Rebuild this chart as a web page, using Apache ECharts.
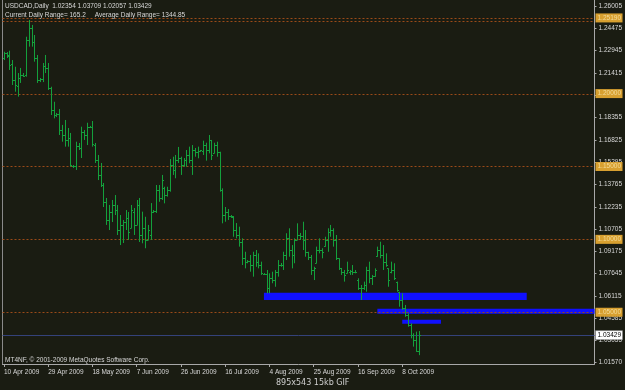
<!DOCTYPE html>
<html><head><meta charset="utf-8">
<script src="https://cdn.jsdelivr.net/npm/echarts@6/dist/echarts.min.js"></script>
<style>html,body{margin:0;padding:0;background:#1a1c12;}#c{width:625px;height:390px;}</style>
</head><body><div id="c"></div>
<script>
const headerLine1 = 'USDCAD,Daily  1.02354 1.03709 1.02057 1.03429';
const headerLine2 = 'Current Daily Range= 165.2     Average Daily Range= 1344.85';
const copyright = 'MT4NF, \u00a9 2001-2009 MetaQuotes Software Corp.';
const caption = '895x543 15kb GIF';

const opens = [
1.2244,1.2278,1.2265,1.2203,1.2093,1.2052,1.2107,1.2128,1.2128,1.2368,
1.2450,1.2354,1.2244,1.2093,1.2100,1.2189,1.2176,1.2038,1.1887,1.1853,
1.1860,1.1750,1.1716,1.1682,1.1695,1.1503,1.1503,1.1640,1.1627,1.1736,
1.1716,1.1771,1.1771,1.1647,1.1544,1.1442,1.1373,1.1256,1.1133,1.1188,
1.1236,1.1201,1.1064,1.1099,1.1119,1.1147,1.1078,1.1188,1.1099,1.1236,
1.1030,1.1078,1.0996,1.1030,1.1188,1.1195,1.1339,1.1284,1.1352,1.1304,
1.1339,1.1510,1.1476,1.1544,1.1558,1.1510,1.1544,1.1579,1.1544,1.1613,
1.1599,1.1606,1.1606,1.1647,1.1613,1.1682,1.1592,1.1647,1.1599,1.1339,
1.1167,1.1188,1.1160,1.1153,1.1064,1.1030,1.0982,1.0872,1.0845,1.0852,
1.0824,1.0893,1.0845,1.0824,1.0762,1.0762,1.0666,1.0735,1.0721,1.0776,
1.0824,1.0824,1.0893,1.1009,1.0927,1.0893,1.0996,1.1030,1.1023,1.0996,
1.0913,1.0879,1.0790,1.0838,1.0927,1.0927,1.0954,1.0996,1.1050,1.1064,
1.0996,1.0870,1.0804,1.0776,1.0769,1.0776,1.0783,1.0776,1.0721,1.0666,
1.0666,1.0687,1.0790,1.0735,1.0749,1.0886,1.0927,1.0893,1.0845,1.0801,
1.0776,1.0790,1.0707,1.0639,1.0584,1.0529,1.0481,1.0412,1.0344,1.0310,
1.02354];
const highs = [
1.2287,1.2285,1.2294,1.2230,1.2184,1.2141,1.2176,1.2141,1.2390,1.2505,
1.2471,1.2402,1.2265,1.2107,1.2210,1.2265,1.2210,1.2047,1.1944,1.1867,
1.1894,1.1785,1.1819,1.1764,1.1730,1.1510,1.1670,1.1661,1.1773,1.1750,
1.1800,1.1778,1.1812,1.1661,1.1579,1.1524,1.1387,1.1284,1.1236,1.1270,
1.1304,1.1236,1.1167,1.1133,1.1201,1.1188,1.1236,1.1215,1.1270,1.1284,
1.1190,1.1155,1.1099,1.1249,1.1201,1.1373,1.1373,1.1442,1.1361,1.1361,
1.1551,1.1567,1.1579,1.1634,1.1567,1.1558,1.1613,1.1636,1.1647,1.1627,
1.1636,1.1613,1.1677,1.1663,1.1716,1.1682,1.1663,1.1670,1.1601,1.1350,
1.1222,1.1208,1.1167,1.1160,1.1112,1.1087,1.1007,1.0915,1.0858,1.0893,
1.0915,1.0927,1.0904,1.0847,1.0769,1.0790,1.0767,1.0778,1.0790,1.0858,
1.0838,1.0915,1.1042,1.1076,1.0961,1.1007,1.1110,1.1044,1.1121,1.1064,
1.0915,1.0893,1.0812,1.0950,1.1007,1.0939,1.1018,1.1076,1.1099,1.1076,
1.1030,1.0870,1.0804,1.0790,1.0847,1.0790,1.0824,1.0790,1.0733,1.0687,
1.0710,1.0812,1.0847,1.0756,1.0801,1.0950,1.0984,1.0961,1.0904,1.0801,
1.0847,1.0836,1.0710,1.0641,1.0630,1.0550,1.0493,1.0424,1.0356,1.0367,
1.03709];
const lows = [
1.2230,1.2244,1.2162,1.2059,1.2013,1.1979,1.2073,1.2114,1.2116,1.2322,
1.2322,1.2219,1.2073,1.2079,1.2079,1.2141,1.2025,1.1853,1.1830,1.1839,
1.1716,1.1670,1.1636,1.1636,1.1498,1.1490,1.1476,1.1613,1.1558,1.1682,
1.1647,1.1764,1.1636,1.1524,1.1407,1.1359,1.1222,1.1099,1.1064,1.1119,
1.1167,1.1030,1.0961,1.0975,1.1064,1.0996,1.1078,1.1030,1.1099,1.0982,
1.0973,1.0939,1.0996,1.0996,1.1181,1.1181,1.1258,1.1270,1.1247,1.1293,
1.1327,1.1442,1.1419,1.1524,1.1442,1.1498,1.1498,1.1522,1.1442,1.1567,
1.1556,1.1601,1.1579,1.1540,1.1590,1.1544,1.1590,1.1567,1.1327,1.1110,
1.1121,1.1133,1.1147,1.1018,1.1007,1.0950,1.0824,1.0801,1.0836,1.0778,
1.0744,1.0812,1.0801,1.0756,1.0756,1.0630,1.0630,1.0699,1.0675,1.0744,
1.0812,1.0790,1.0858,1.0881,1.0801,1.0836,1.0996,1.0996,1.0927,1.0881,
1.0858,1.0756,1.0721,1.0836,1.0904,1.0870,1.0950,1.0915,1.1018,1.0950,
1.0858,1.0790,1.0756,1.0710,1.0767,1.0756,1.0756,1.0767,1.0653,1.0584,
1.0653,1.0641,1.0699,1.0687,1.0744,1.0881,1.0870,1.0790,1.0812,1.0675,
1.0767,1.0721,1.0641,1.0538,1.0515,1.0469,1.0401,1.0321,1.0264,1.0229,
1.02057];
const closes = [
1.2278,1.2258,1.2196,1.2093,1.2059,1.2107,1.2128,1.2124,1.2368,1.2450,
1.2354,1.2244,1.2093,1.2100,1.2189,1.2176,1.2038,1.1887,1.1853,1.1860,
1.1750,1.1716,1.1682,1.1695,1.1510,1.1503,1.1640,1.1627,1.1736,1.1716,
1.1771,1.1771,1.1654,1.1544,1.1442,1.1373,1.1256,1.1133,1.1188,1.1236,
1.1201,1.1064,1.1099,1.1119,1.1147,1.1050,1.1201,1.1099,1.1236,1.1030,
1.1078,1.0996,1.1064,1.1188,1.1195,1.1339,1.1284,1.1407,1.1304,1.1339,
1.1510,1.1476,1.1544,1.1558,1.1510,1.1544,1.1579,1.1544,1.1613,1.1599,
1.1606,1.1610,1.1647,1.1613,1.1682,1.1579,1.1647,1.1599,1.1339,1.1167,
1.1188,1.1160,1.1157,1.1064,1.1030,1.0982,1.0872,1.0845,1.0852,1.0824,
1.0893,1.0845,1.0824,1.0769,1.0762,1.0666,1.0735,1.0721,1.0776,1.0824,
1.0824,1.0893,1.1009,1.0927,1.0893,1.0996,1.1030,1.1023,1.0996,1.0913,
1.0879,1.0790,1.0804,1.0927,1.0927,1.0913,1.0996,1.1050,1.1064,1.0996,
1.0872,1.0804,1.0776,1.0756,1.0790,1.0783,1.0776,1.0776,1.0666,1.0666,
1.0687,1.0790,1.0735,1.0749,1.0790,1.0927,1.0893,1.0845,1.0824,1.0721,
1.0790,1.0735,1.0653,1.0584,1.0529,1.0481,1.0412,1.0344,1.0310,1.0235,
1.03429];

// x axis: bar slots (including empty right margin) and dated tick labels
const slotCount = 214;
const tickIndex = [0,16,32,48,64,80,96,112,128,144];
const tickDates = ['10 Apr 2009','29 Apr 2009','18 May 2009','7 Jun 2009','26 Jun 2009','16 Jul 2009','4 Aug 2009','25 Aug 2009','16 Sep 2009','8 Oct 2009'];

// y axis
const priceMin = 1.0145, priceMax = 1.2642;
const priceTicks = [1.26005,1.24475,1.22945,1.21415,1.19885,1.18355,1.16825,1.15295,1.13765,1.12235,1.10705,1.09175,1.07645,1.06115,1.04585,1.03055,1.01570];

// horizontal line objects
const levelPrices = [1.25190,1.25000,1.20000,1.15000,1.10000,1.05000];
const levelLabelPrices = [1.25190,1.20000,1.15000,1.10000,1.05000];
const bidPrice = 1.03429;

// rectangle objects: [startIndex, endIndex, topPrice, bottomPrice]
const rectStart = [94.4, 134.6, 143.6];
const rectEnd   = [189.2, 213.5, 157.7];
const rectTop   = [1.06344, 1.05246, 1.04492];
const rectBot   = [1.05843, 1.04903, 1.04217];

const FONT = '"Liberation Sans", Arial, sans-serif';
const BAR = '#14a03c';
const TXT = '#d8d8d8';

const categories = Array.from({length: slotCount}, (_, i) => {
  const k = tickIndex.indexOf(i); return k >= 0 ? tickDates[k] : String(i);
});
const ohlc = opens.map((o, i) => [i, o, highs[i], lows[i], closes[i]]);
const rects = rectStart.map((s, i) => [s, rectEnd[i], rectTop[i], rectBot[i]]);

const chart = echarts.init(document.getElementById('c'), null, {renderer: 'canvas'});
chart.setOption({
  backgroundColor: '#1a1c12',
  animation: false,
  title: [
    {text: headerLine1 + '\n' + headerLine2, left: 5, top: 2, padding: 0,
     textStyle: {color: TXT, fontSize: 6.5, fontWeight: 'normal', fontFamily: FONT, lineHeight: 9}},
    {text: copyright, left: 5, top: 357, padding: 0,
     textStyle: {color: TXT, fontSize: 6.5, fontWeight: 'normal', fontFamily: FONT}},
    {text: caption, left: 276, top: 379, padding: 0,
     textStyle: {color: '#cfcfcf', fontSize: 8, fontWeight: 'normal', fontFamily: '"DejaVu Sans", sans-serif'}}
  ],
  grid: {left: 2.5, right: 30, top: 0, bottom: 26, containLabel: false},
  xAxis: {
    type: 'category', data: categories, boundaryGap: true,
    axisLine: {lineStyle: {color: '#a8a8a8', width: 1}},
    axisTick: {show: true, alignWithLabel: true, length: 3, interval: (i) => tickIndex.includes(i), lineStyle: {color: '#a8a8a8'}},
    axisLabel: {interval: (i) => tickIndex.includes(i), align: 'left', margin: 5, color: TXT, fontSize: 6.5, fontFamily: FONT,
                formatter: (v) => v},
    splitLine: {show: false}
  },
  yAxis: [{
    type: 'value', position: 'right', min: priceMin, max: priceMax, scale: true,
    axisLine: {show: true, lineStyle: {color: '#a8a8a8', width: 1}},
    axisTick: {show: true, length: 2, customValues: priceTicks, lineStyle: {color: '#a8a8a8'}},
    axisLabel: {customValues: priceTicks, margin: 4, color: TXT, fontSize: 6.5, fontFamily: FONT,
                formatter: (v) => v.toFixed(5)},
    splitLine: {show: false}
  }, {
    type: 'value', position: 'left', min: priceMin, max: priceMax,
    axisLine: {show: true, onZero: false, lineStyle: {color: '#8a8a8a', width: 1}},
    axisTick: {show: false}, axisLabel: {show: false}, splitLine: {show: false}
  }],
  series: [
    {
      type: 'custom', name: 'rectangles', z: 1, data: rects, clip: true,
      renderItem: (params, api) => {
        const a = api.coord([api.value(0), api.value(2)]);
        const b = api.coord([api.value(1), api.value(3)]);
        const cs = params.coordSys;
        const x2 = Math.min(b[0], cs.x + cs.width);
        return {type: 'rect', shape: {x: a[0], y: a[1], width: x2 - a[0], height: b[1] - a[1]},
                style: {fill: '#1010ff'}};
      }
    },
    {
      type: 'custom', name: 'levels', z: 2, data: levelPrices.map(p => [0, p]),
      renderItem: (params, api) => {
        const cs = params.coordSys;
        const y = Math.round(api.coord([0, api.value(1)])[1]) + 0.5;
        return {type: 'line', shape: {x1: cs.x, y1: y, x2: cs.x + cs.width, y2: y},
                style: {stroke: '#9a4a18', lineWidth: 1, lineDash: [2, 2]}};
      }
    },
    {
      type: 'custom', name: 'bid', z: 2, data: [[0, bidPrice]],
      renderItem: (params, api) => {
        const cs = params.coordSys;
        const y = Math.round(api.coord([0, api.value(1)])[1]) + 0.5;
        return {type: 'line', shape: {x1: cs.x, y1: y, x2: cs.x + cs.width, y2: y},
                style: {stroke: '#34427a', lineWidth: 1}};
      }
    },
    {
      type: 'custom', name: 'bars', z: 5, data: ohlc,
      encode: {x: 0, y: [1, 2, 3, 4]},
      renderItem: (params, api) => {
        const i = api.value(0);
        const o = api.coord([i, api.value(1)]);
        const h = api.coord([i, api.value(2)]);
        const l = api.coord([i, api.value(3)]);
        const c = api.coord([i, api.value(4)]);
        const px = Math.round(h[0]) + 0.5;
        const st = {stroke: BAR, lineWidth: 1};
        return {type: 'group', children: [
          {type: 'line', shape: {x1: px, y1: h[1], x2: px, y2: l[1]}, style: st},
          {type: 'line', shape: {x1: px - 1.5, y1: Math.round(o[1]) + 0.5, x2: px, y2: Math.round(o[1]) + 0.5}, style: st},
          {type: 'line', shape: {x1: px, y1: Math.round(c[1]) + 0.5, x2: px + 1.5, y2: Math.round(c[1]) + 0.5}, style: st}
        ]};
      }
    },
    {
      type: 'custom', name: 'levelBoxes', z: 10, data: levelLabelPrices.map(p => [0, p]),
      renderItem: (params, api) => {
        const cs = params.coordSys;
        const y = api.coord([0, api.value(1)])[1];
        const x = cs.x + cs.width + 1;
        return {type: 'group', children: [
          {type: 'rect', shape: {x: x, y: y - 4.5, width: 27, height: 9}, style: {fill: '#d8a030'}},
          {type: 'text', style: {x: x + 2, y: y, text: api.value(1).toFixed(5), fill: '#f4dc9a',
            font: '6.5px ' + FONT, verticalAlign: 'middle', align: 'left'}}
        ]};
      }
    },
    {
      type: 'custom', name: 'bidBox', z: 10, data: [[0, bidPrice]],
      renderItem: (params, api) => {
        const cs = params.coordSys;
        const y = api.coord([0, api.value(1)])[1];
        const x = cs.x + cs.width + 1;
        return {type: 'group', children: [
          {type: 'rect', shape: {x: x, y: y - 4.5, width: 27, height: 9}, style: {fill: '#ffffff', stroke: '#888', lineWidth: 0.5}},
          {type: 'text', style: {x: x + 2, y: y, text: api.value(1).toFixed(5), fill: '#000000',
            font: '6.5px ' + FONT, verticalAlign: 'middle', align: 'left'}}
        ]};
      }
    }
  ]
});
</script></body></html>
